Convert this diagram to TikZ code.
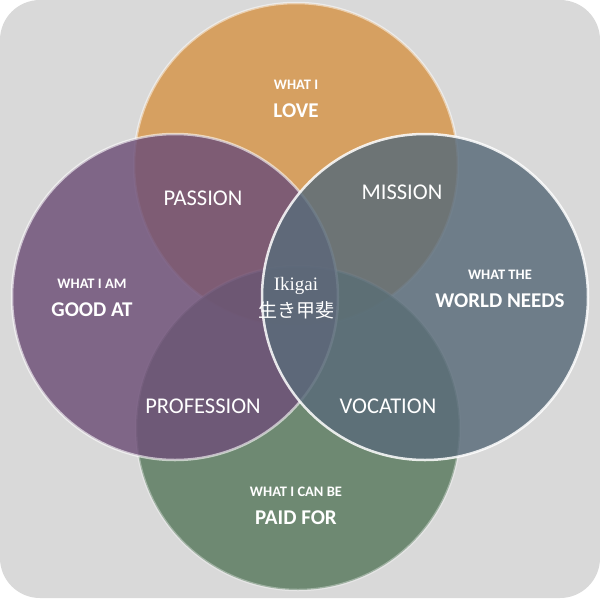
\documentclass[tikz,border=0pt]{standalone}
\usepackage{fontspec}
\setmainfont{Carlito}
\newfontfamily\cjk{Noto Sans CJK JP}
\newfontfamily\serifit{Liberation Serif}
\begin{document}
\begin{tikzpicture}[x=1pt,y=-1pt,
  circ/.style={fill opacity=0.84},
  small/.style={text=white, font=\bfseries\fontsize{14.5}{16}\selectfont},
  big/.style={text=white, font=\bfseries\fontsize{21}{23}\selectfont},
  ovl/.style={text=white, font=\fontsize{22.5}{25}\selectfont}]
\useasboundingbox (0,0) rectangle (600,598);
\fill[white] (0,0) rectangle (600,598);
\fill[gray!30, rounded corners=40pt] (0,0) rectangle (600,598);
\fill[circ, fill={rgb,255:red,214;green,150;blue,75}] (296,165) circle (162);
\draw[white, line width=2.5pt, opacity=0.5] (296,165) circle (162);
\fill[circ, fill={rgb,255:red,90;green,122;blue,95}] (298,428) circle (162);
\draw[white, line width=2.5pt, opacity=0.35] (298,428) circle (162);
\fill[circ, fill={rgb,255:red,110;green,80;blue,120}] (175,297) circle (163);
\draw[white, line width=2.5pt, opacity=0.6] (175,297) circle (163);
\fill[circ, fill={rgb,255:red,90;green,108;blue,122}] (425,297) circle (163);
\draw[white, line width=2.5pt, opacity=0.85] (425,297) circle (163);
\node[small] (love1) at (296,85) {WHAT I};
\node[big] (love2) at (296,111) {LOVE};
\node[small] (good1) at (92,284) {WHAT I AM};
\node[big] (good2) at (92,310) {GOOD AT};
\node[small] (world1) at (500,275) {WHAT THE};
\node[big] (world2) at (500,301) {WORLD NEEDS};
\node[small] (paid1) at (296,492) {WHAT I CAN BE};
\node[big] (paid2) at (296,518) {PAID FOR};
\node[ovl] (passion) at (203,198) {PASSION};
\node[ovl] (mission) at (402,192) {MISSION};
\node[ovl] (prof) at (203,406) {PROFESSION};
\node[ovl] (voc) at (388,406) {VOCATION};
\node[text=white, font=\serifit\fontsize{19}{21}\selectfont] (iki) at (296,286) {Ikigai};
\node[text=white, font=\cjk\fontsize{19}{22}\selectfont] (jp) at (296,310) {生き甲斐};
\end{tikzpicture}
\end{document}
